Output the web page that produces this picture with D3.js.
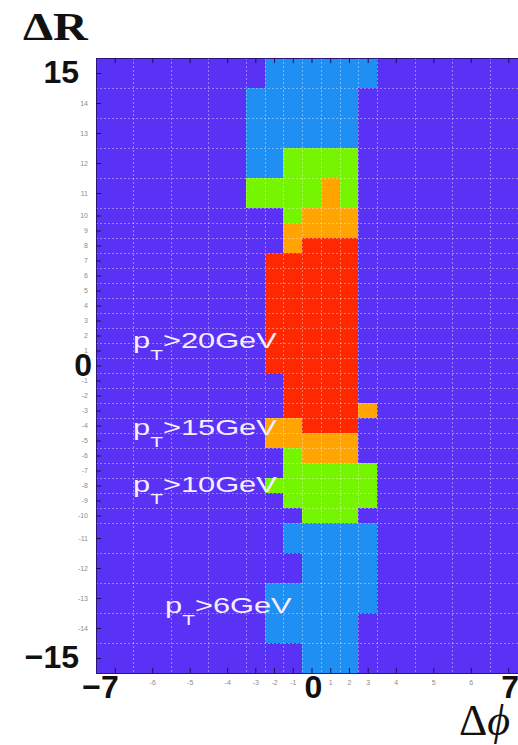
<!DOCTYPE html>
<meta charset="utf-8">
<script src="https://d3js.org/d3.v7.min.js"></script>
<style type="text/css">
body { margin: 0; background: #fff; }
.grid line { stroke: #fff; stroke-opacity: 0.38; stroke-dasharray: 2 2; }
.axis text { font: 7px "Liberation Sans", Arial, sans-serif; fill: #8c8c8c; }
.axis line { stroke: #1c0f55; }
.axis path { display: none; }
.big { font: bold 32px "Liberation Sans", Arial, sans-serif; fill: #111; }
.cut { font-family: "Liberation Sans", Arial, sans-serif; fill: #f4eeff; }
.title { font-family: "Liberation Serif", "DejaVu Serif", serif; fill: #111; }
</style>
<body></body>
<script>

// bins of the map: delta phi (columns) and delta R (rows), relative bin widths
var xCats = [-7, -6, -5, -4, -3, -2, -1, 0, 1, 2, 3, 4, 5, 6, 7];
var xSpan = [2, 2, 2, 2, 1, 1, 1, 1, 1, 1, 1, 2, 2, 2, 2];
var yCats = [15, 14, 13, 12, 11, 10, 9, 8, 7, 6, 5, 4, 3, 2, 1, 0,
             -1, -2, -3, -4, -5, -6, -7, -8, -9, -10, -11, -12, -13, -14, -15];
var ySpan = [2, 2, 2, 2, 2, 1, 1, 1, 1, 1, 1, 1, 1, 1, 1, 1,
             1, 1, 1, 1, 1, 1, 1, 1, 1, 1, 2, 2, 2, 2, 2];

// tightest pT cut passed in each cell (0 = none, 1 = 6GeV, 2 = 10GeV, 3 = 15GeV, 4 = 20GeV)
// one string per row of yCats, one digit per column of xCats
var cutRows = [
  "000001111110000", // 15
  "000011111100000", // 14
  "000011111100000", // 13
  "000011222200000", // 12
  "000022223200000", // 11
  "000000233300000", // 10
  "000000333300000", // 9
  "000000344400000", // 8
  "000004444400000", // 7
  "000004444400000", // 6
  "000004444400000", // 5
  "000004444400000", // 4
  "000004444400000", // 3
  "000004444400000", // 2
  "000004444400000", // 1
  "000004444400000", // 0
  "000000444400000", // -1
  "000000444400000", // -2
  "000000444430000", // -3
  "000003344400000", // -4
  "000003333300000", // -5
  "000000233300000", // -6
  "000000222220000", // -7
  "000002222220000", // -8
  "000000222220000", // -9
  "000000022200000", // -10
  "000000111110000", // -11
  "000000011110000", // -12
  "000001111110000", // -13
  "000001111100000", // -14
  "000000011100000"  // -15
];

var cutValues = ["20", "15", "10", "6"];
var cutColors = ["#5a32f6", "#1f8ff3", "#76f500", "#ffa400", "#ff2800"];

var xBigLabels = [-7, 0, 7];
var yBigLabels = [15, 0, -15];

// layout
var W = 518, H = 745;
var plot = {left: 96, right: 527, top: 58, bottom: 673};
var annot = {x: [133, 133, 133, 165], y: [348, 435, 492, 613]};

var svg = d3.select("body").append("svg")
    .attr("width", W)
    .attr("height", H);

var plotArea = svg.append("g");

// cumulative edges in bin units
function edges(span) {
  var e = [0];
  span.forEach(function(s) { e.push(e[e.length - 1] + s); });
  return e;
}
var xEdge = edges(xSpan), yEdge = edges(ySpan);

var xU = d3.scaleLinear().domain([0, d3.sum(xSpan)]).range([plot.left, plot.right]);
var yU = d3.scaleLinear().domain([0, d3.sum(ySpan)]).range([plot.top, plot.bottom]);

function xCenter(v) { var i = xCats.indexOf(v); return xU((xEdge[i] + xEdge[i + 1]) / 2); }
function yCenter(v) { var i = yCats.indexOf(v); return yU((yEdge[i] + yEdge[i + 1]) / 2); }

// cells
var cells = [];
cutRows.forEach(function(row, i) {
  row.split("").forEach(function(c, j) {
    cells.push({i: i, j: j, level: +c});
  });
});

plotArea.selectAll(".cell")
  .data(cells).enter().append("rect")
    .attr("class", "cell")
    .attr("shape-rendering", "crispEdges")
    .attr("x", function(d) { return xU(xEdge[d.j]); })
    .attr("y", function(d) { return yU(yEdge[d.i]); })
    .attr("width", function(d) { return xU(xEdge[d.j + 1]) - xU(xEdge[d.j]) + 0.5; })
    .attr("height", function(d) { return yU(yEdge[d.i + 1]) - yU(yEdge[d.i]) + 0.5; })
    .style("fill", function(d) { return cutColors[d.level]; });

// dashed grid on every bin edge
var grid = plotArea.append("g").attr("class", "grid");
grid.selectAll(".gx")
  .data(xEdge.slice(1, -1)).enter().append("line")
    .attr("x1", function(d) { return Math.round(xU(d)) + 0.5; })
    .attr("x2", function(d) { return Math.round(xU(d)) + 0.5; })
    .attr("y1", plot.top)
    .attr("y2", plot.bottom);
grid.selectAll(".gy")
  .data(yEdge.slice(1, -1)).enter().append("line")
    .attr("y1", function(d) { return Math.round(yU(d)) + 0.5; })
    .attr("y2", function(d) { return Math.round(yU(d)) + 0.5; })
    .attr("x1", plot.left)
    .attr("x2", plot.right);

// frame
plotArea.append("rect")
    .attr("x", plot.left + 0.5)
    .attr("y", plot.top + 0.5)
    .attr("width", plot.right - plot.left)
    .attr("height", plot.bottom - plot.top)
    .style("fill", "none")
    .style("stroke", "#2a1878");

// small axes, labels at bin centres
var xTicks = xCats.map(xCenter);
var yTicks = yCats.map(yCenter);
function xFmt(d, i) { return xBigLabels.indexOf(xCats[i]) >= 0 ? "" : xCats[i]; }
function yFmt(d, i) { return yBigLabels.indexOf(yCats[i]) >= 0 ? "" : yCats[i]; }

var idScale = d3.scaleLinear().domain([0, 1000]).range([0, 1000]);

svg.append("g").attr("class", "axis")
    .attr("transform", "translate(0," + plot.bottom + ")")
    .call(d3.axisBottom(idScale).tickValues(xTicks).tickFormat(xFmt)
      .tickSizeInner(-5).tickSizeOuter(0).tickPadding(7));

svg.append("g").attr("class", "axis")
    .attr("transform", "translate(0," + plot.top + ")")
    .call(d3.axisTop(idScale).tickValues(xTicks).tickFormat("")
      .tickSizeInner(-5).tickSizeOuter(0));

svg.append("g").attr("class", "axis")
    .attr("transform", "translate(" + plot.left + ",0)")
    .call(d3.axisLeft(idScale).tickValues(yTicks).tickFormat(yFmt)
      .tickSizeInner(-5).tickSizeOuter(0).tickPadding(8));

// big bold labels
svg.selectAll(".bigx")
  .data(xBigLabels).enter().append("text")
    .attr("class", "big")
    .attr("text-anchor", function(d) { return d < 0 ? "end" : "middle"; })
    .attr("x", function(d) { return d < 0 ? xCenter(d) + 4 : xCenter(d) + 2; })
    .attr("y", 698)
    .text(function(d) { return d < 0 ? "\u2212" + Math.abs(d) : d; });

svg.selectAll(".bigy")
  .data(yBigLabels).enter().append("text")
    .attr("class", "big")
    .attr("text-anchor", "end")
    .attr("x", function(d) { return d === 0 ? 92 : 79; })
    .attr("y", function(d) { return yCenter(d) + 10; })
    .text(function(d) { return d < 0 ? "\u2212" + Math.abs(d) : d; });

// axis titles
svg.append("text")
    .attr("class", "title")
    .attr("transform", "translate(23,40) scale(1.2,1)")
    .style("font-size", "40px")
    .style("font-weight", "bold")
    .text("\u0394R");

var phiTitle = svg.append("text")
    .attr("class", "title")
    .attr("x", 459)
    .attr("y", 735)
    .style("font-size", "44px");
phiTitle.append("tspan").text("\u0394");
phiTitle.append("tspan").style("font-style", "italic").text("\u03d5");

// pT cut annotations
cutValues.forEach(function(v, k) {
  var t = svg.append("text")
      .attr("class", "cut")
      .attr("transform", "translate(" + annot.x[k] + "," + annot.y[k] + ") scale(1.4,1)")
      .style("font-size", "22px");
  t.append("tspan").text("p");
  t.append("tspan").attr("dy", 12).style("font-size", "15px").text("T");
  t.append("tspan").attr("dy", -12).text(">" + v + "GeV");
});

</script>
